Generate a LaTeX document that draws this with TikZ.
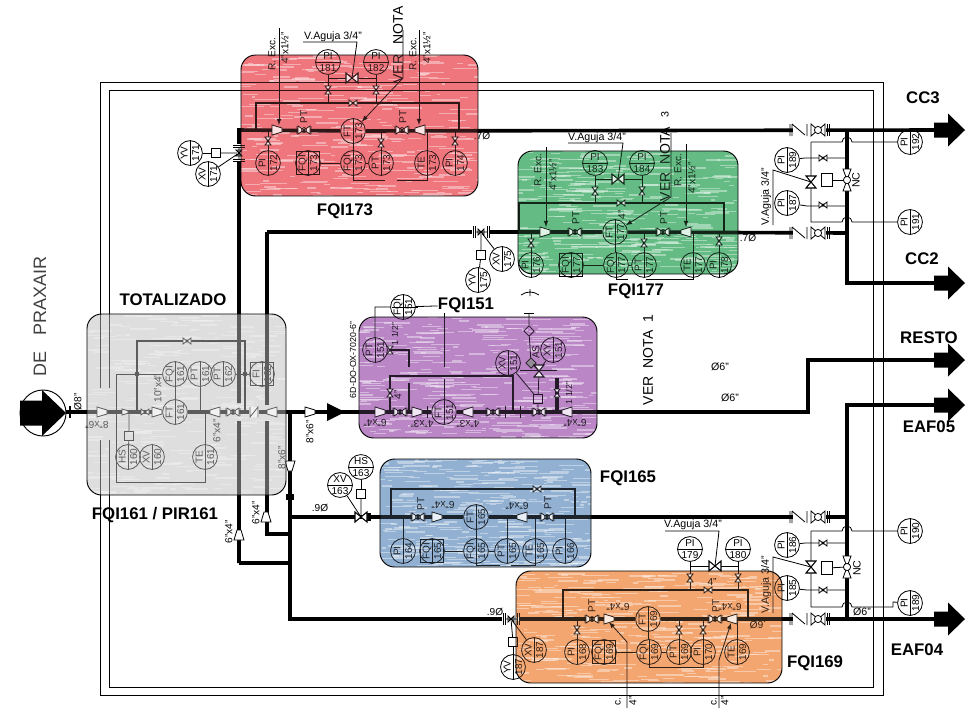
\documentclass[tikz,border=0pt]{standalone}
\usepackage{fontspec}
\setmainfont{Liberation Sans}
\setsansfont{Liberation Sans}
\usetikzlibrary{shapes.geometric}
\definecolor{cRed}{RGB}{238,118,124}
\definecolor{cGreen}{RGB}{100,188,132}
\definecolor{cGray}{RGB}{222,222,222}
\definecolor{cPurple}{RGB}{186,134,198}
\definecolor{cBlue}{RGB}{146,176,210}
\definecolor{cOrange}{RGB}{244,166,112}
\tikzset{
  pipe/.style={line width=2.7pt},
  bypass/.style={line width=2.1pt},
  thinp/.style={line width=.6pt},
  inst/.style={circle,draw,line width=.6pt,minimum size=18pt,inner sep=0pt,align=center,
    font=\fontsize{7.5}{8.6}\selectfont},
  tagbox/.style={draw,line width=.6pt,minimum size=17pt,inner sep=0pt},
  sqbox/.style={draw,line width=.6pt,minimum size=7pt,inner sep=0pt},
  dmd/.style={diamond,draw,line width=.6pt,minimum size=8pt,inner sep=0pt},
  smalltxt/.style={font=\fontsize{7.6}{8}\selectfont,inner sep=0pt},
  tinytxt/.style={font=\fontsize{6.6}{8}\selectfont,inner sep=0pt},
  midtxt/.style={font=\fontsize{8}{9}\selectfont,inner sep=0pt},
  bigtxt/.style={font=\fontsize{10.5}{12}\selectfont,inner sep=0pt},
  lab/.style={font=\bfseries\fontsize{12.6}{14}\selectfont,inner sep=0pt},
  smallv/.pic={
    \draw[thinp,fill=white] (-4,-3) -- (4,3) -- (4,-3) -- (-4,3) -- cycle;
    \fill (0,0) circle (1.6);
  },
  gatev/.pic={
    \draw[thinp,fill=white] (-6,-4) -- (6,4) -- (6,-4) -- (-6,4) -- cycle;
    \draw[thinp] (0,0) circle (2.4) (-7,-4) -- (-7,4) (7,-4) -- (7,4);
  },
  needlev/.pic={
    \draw[line width=.8pt,fill=white] (-6,-5) -- (6,5) -- (6,-5) -- (-6,5) -- cycle;
  },
  redu/.pic={
    \draw[thinp,fill=white] (-5,-5) -- (5,-2) -- (5,2) -- (-5,5) -- cycle;
  },
  linev/.pic={
    \fill[white] (-9,-2) rectangle (9,2);
    \draw[thinp] (-8,-6) -- (-8,6) (-6,-6) -- (-6,6) (6,-6) -- (6,6) (8,-6) -- (8,6);
    \draw[thinp] (-6,0) -- (6,0) (-3,-3) -- (3,3) -- (3,-3) -- (-3,3) -- cycle;
    \fill (0,0) circle (1.5);
  },
  checkgate/.pic={
    \fill[white] (-5,-4) rectangle (28,4);
    \draw[thinp] (-8,-6) -- (-8,6) (-6,-6) -- (-6,6) (-6,-6) -- (7,5) (9,-6) -- (9,6);
    \draw[thinp,fill=white] (13,-6) -- (27,6) -- (27,-6) -- (13,6) -- cycle;
    \draw[thinp,fill=white] (20,0) circle (3.6);
    \draw[thinp] (29,-6) -- (29,6) (31,-6) -- (31,6);
  },
  ncv/.pic={
    \draw[thinp,fill=white] (-11,-4) -- (11,4) -- (11,-4) -- (-11,4) -- cycle;
    \draw[thinp,fill=white] (0,0) circle (3.6);
  },
  chkn/.pic={
    \fill[white] (-5,-5) rectangle (5,5);
    \draw[thinp] (-4,-5) -- (-4,5) -- (4,-5) -- (4,5);
  },
  bigarrow/.pic={
    \fill (0,-7.5) -- (14,-7.5) -- (14,-16.5) -- (31,0) -- (14,16.5) -- (14,7.5) -- (0,7.5) -- cycle;
  }
}
\def\blocklist{241/55/478/196/cRed/.2, 518/151/738/274/cGreen/.2, 87/314/286/495/cGray/.42,
  359/317/597/438/cPurple/.2, 380/459/591/567/cBlue/.2, 516/571/782/683/cOrange/.2}
\begin{document}
\begin{tikzpicture}[x=0.75pt,y=-0.75pt]
  \useasboundingbox (0,0) rectangle (980,708);
  \pgfmathsetseed{41}
  % coloured blocks with fine streaks, under everything
  \foreach \bx/\by/\bX/\bY/\cl/\op in \blocklist {
    \begin{scope}
      \clip[rounded corners=11pt] (\bx,\by) rectangle (\bX,\bY);
      \fill[\cl] (\bx,\by) rectangle (\bX,\bY);
      \foreach \k in {1,...,320} {
        \pgfmathsetmacro{\rx}{\bx+rnd*(\bX-\bx)}
        \pgfmathsetmacro{\ry}{\by+rnd*(\bY-\by)}
        \pgfmathsetmacro{\rw}{3+rnd*26}
        \pgfmathsetmacro{\rh}{.7+rnd*1.2}
        \fill[white,opacity=.5] (\rx-\rw/2,\ry) rectangle (\rx+\rw/2,\ry+\rh);
      }
    \end{scope}
  }
  % double frame, open at the inlet
  \draw[line width=.7pt] (100,388) -- (100,82) -- (883,82) -- (883,695) -- (100,695) -- (100,440);
  \draw[line width=.7pt] (109,388) -- (109,90) -- (873,90) -- (873,687) -- (109,687) -- (109,440);

  % instruments
  \foreach \nm/\px/\py/\tg/\nu/\rt in {
    pi181/328/62/PI/181/0, pi182/376/62/PI/182/0, ft173/353/131/FT/173/90, fq173/353/163/FQI/173/90,
    pt173/381/163/PT/173/90, te173/427/163/TE/173/90, pi174/455/163/PI/174/90, pi172/268/163/PI/172/90,
    yv171/190/153/YV/171/90, xv171/208/174/XV/171/90,
    pi183/595/163/PI/183/0, pi184/642/163/PI/184/0, ft177/615/232/FT/177/90, fq177/616/265/FQI/177/90,
    pt177/644/265/PT/177/90, te177/693/265/TE/177/90, pi178/719/265/PI/178/90, pi176/531/265/PI/176/90,
    yv175/478/280/YV/175/90, xv175/502/259/XV/175/90,
    ft161/175/412/FT/161/90, fq161/175/374/FQI/161/90, pt161/200/374/PT/161/90, pt162/223/374/PT/162/90,
    te161/205/457/TE/161/90, hs160/128/457/HS/160/90, xv160/152/457/XV/160/90,
    fq151/403/307/FQI/151/90, pt151/375/350/PT/151/90, xv151/508/363/XV/151/90, xy151/553/350/XY/151/90,
    ft151/444/412/FT/151/90,
    ft165/476/517/FT/165/90, fq165/476/551/FQI/165/90, pt165/507/551/PT/165/90, te165/535/551/TE/165/90,
    pi166/565/551/PI/166/90, pi164/403/551/PI/164/90, xv163/340/485/XV/163/0, hs163/361/467/HS/163/0,
    ft169/648/619/FT/169/90, fq169/649/652/FQI/169/90, pt169/679/652/PT/169/90, pi170/703/652/PI/170/90,
    te169/737/652/TE/169/90, pi168/577/652/PI/168/90, xv187/534/650/XV/187/90, yv187/513/667/YV/187/90,
    pi179/690/549/PI/179/0, pi180/738/549/PI/180/0,
    pi192/910/142/PI/192/90, pi191/910/222/PI/191/90, pi189/787/160/PI/189/90, pi187/787/203/PI/187/90,
    pi190/910/531/PI/190/90, pi188/910/603/PI/189/90, pi186/787/545/PI/186/90, pi185/787/588/PI/185/90} {
    \node[inst,rotate=\rt] (\nm) at (\px,\py) {\tg\\\nu};
    \draw[thinp] (\nm.west) -- (\nm.east);
  }
  % boxed ones
  \foreach \nm/\px/\py/\tg/\nu in {qb173/308/163/FQI/173, qb177/571/265/FQI/177, qb165/432/551/FQI/165,
    qb169/604/652/FQI/169, fi162/262/374/FI/162} {
    \node[tagbox] (b\nm) at (\px,\py) {};
    \node[inst,rotate=90] (\nm) at (\px,\py) {\tg\\\nu};
    \draw[thinp] (\nm.west) -- (\nm.east);
  }
  \draw[thinp] ([xshift=1.5pt]fq151.north) -- ([xshift=1.5pt]fq151.south);

  % pipe corners and free ends
  \foreach \nm/\px/\py in {inA/66/412, ch1/808/412, ch2/808/360, resto/934/360,
    v1b/239/563, v1m/239/421, v1n/239/403, r0/239/130, cc3/934/130,
    v2t/267/232, v2n/267/405, v2m/267/421, v2b/267/534, g0/847/233, cN/847/130, cS/847/283, cc2/934/283,
    h0/290/412, h1/290/534, h2/290/563, h3/290/517, h4/290/619,
    bE/847/517, eT/847/405, eaf5/934/405, eS/847/619, eaf4/934/619,
    r1/256/130, r2/256/103, r3/459/103, r4/459/130,
    g1/519/232, g2/519/203, g3/724/203, g4/724/232,
    t1/137/412, t2/137/341, t3/245/341, t4/245/412, t5/137/374, t6/245/374,
    p1/390/412, p2/390/376, p3/513/376, p4/513/412, p5/409/412, p6/409/383, p7/409/367, p8/409/350, p9/390/350,
    pa/557/412, pb/557/378,
    b1/391/517, b2/391/489, b3/575/489, b4/575/517,
    o1/563/619, o2/563/590, o3/748/590, o4/748/619,
    vr/239/153, vg/481/232, vb/361/517, vo/511/619,
    nd1/352/78, nd2/618/179, nd3/715/566, nc1/811/182, nc2/847/180, nc3/811/567, nc4/847/567,
    cv/539/371, sv1/529/313} {
    \coordinate (\nm) at (\px,\py);
  }
  % main pipes
  \draw[pipe] (inA) -- (ft161);
  \draw[pipe] (ft161) -- (ft151);
  \draw[pipe] (ft151) -- (ch1) -- (ch2) -- (resto);
  \draw[pipe] (v1b) -- (v1m) (v1n) -- (r0) -- (ft173);
  \draw[pipe] (ft173) -- (cc3);
  \draw[pipe] (h2) -- (v1b);
  \draw[pipe] (v2t) -- (v2n) (v2m) -- (v2b) -- (h1);
  \draw[pipe] (v2t) -- (ft177);
  \draw[pipe] (ft177) -- (g0);
  \draw[pipe] (cN) -- (cS) -- (cc2);
  \draw[pipe] (h0) -- (h4) -- (ft169);
  \draw[pipe] (ft169) -- (eaf4);
  \draw[pipe] (h3) -- (ft165);
  \draw[pipe] (ft165) -- (bE);
  \draw[pipe] (eaf5) -- (eT) -- (eS);
  \draw[pipe] (pa) -- (pb);
  % bypass loops
  \draw[bypass] (r1) -- (r2) -- (r3) -- (r4);
  \draw[bypass] (g1) -- (g2) -- (g3) -- (g4);
  \draw[bypass] (t1) -- (t2) -- (t3) -- (t4);
  \draw[bypass] (p1) -- (p2) -- (p3) -- (p4);
  \draw[bypass] (p5) -- (p6) (p7) -- (p8) -- (p9);
  \draw[bypass] (b1) -- (b2) -- (b3) -- (b4);
  \draw[bypass] (o1) -- (o2) -- (o3) -- (o4);
  \fill (t5) circle (2.4) (t6) circle (2.4);
  \fill (286,494) rectangle (294,500);
  \fill (366,513) rectangle (371,521);
  \fill (327,403) -- (345,412) -- (327,421) -- cycle;

  % drop lines to the pipe or the loop
  \foreach \a/\b in {pi172/r1, pt173/r1, te173/r1, pi174/r1, pi181/r2, pi182/r2,
    pi176/g1, pt177/g1, te177/g1, pi178/g1, pi183/g2, pi184/g2,
    pi164/b1, pt165/b1, te165/b1, pi166/b1,
    pi168/o1, pt169/o1, pi170/o1, te169/o1, pi179/o2, pi180/o2,
    pt161/t1, te161/t1} {
    \draw[thinp] (\a) -- (\a |- \b);
  }
  \foreach \nm/\px/\py in {sq171/216/153, sq175/481/255, sq163/361/494, sq187/513/642, sq151/538/399, sqh/129/436} {
    \node[sqbox] (\nm) at (\px,\py) {};
  }
  % node to node
  \foreach \a/\b in {fq173/ft173, qb173/fq173, fq173/pt173,
    fq177/ft177, qb177/fq177, fq177/pt177,
    fq165/ft165, qb165/fq165, fq165/pt165,
    fq169/ft169, qb169/fq169, fq169/pt169,
    fq161/ft161, xv151/sq151, xy151/cv, yv171/sq171, xv171/vr, yv175/sq175, xv175/vg,
    hs163/sq163, xv163/vb, yv187/sq187, xv187/vo, hs160/sqh} {
    \draw[thinp] (\a) -- (\b);
  }
  \draw[thinp] (sq171) -- (vr) (sq175) -- (vg) (sq163) -- (vb) (sq187) -- (vo);
  \draw[thinp] (sqh) -- (sqh |- t1) (sq151) -- (sq151 |- p1) (sq151) -- (cv);
  \draw[thinp] (pi181 |- nd1) -- (pi182 |- nd1) (pi183 |- nd2) -- (pi184 |- nd2) (pi179 |- nd3) -- (pi180 |- nd3);
  \draw[thinp] (fq173) |- (385,180) (397,180) -| (te173);
  \draw[thinp] (fq177) |- (628,279) (646,279) -| (te177);
  \draw[thinp] (fq165) |- (500,565) (511,565) -| (te165);
  \draw[thinp] (fq169) |- (680,667) -| (pi170);
  % totalizer
  \draw[thinp] (fq161) -- (t5) -- (116,374) -- (116,482) -| (te161);
  \draw[thinp] (pt162) -- (t6) (t6) -- (fi162);
  % purple block
  \node[lab] (l151) at (466,305) {FQI151};
  \draw[thinp] (pt151) |- (fq151) (fq151) -- (l151);
  \draw[thinp] (444,313) -- (444,367) (444,379) -- (ft151);
  \node[dmd] (dm1) at (529,331) {};
  \node[dmd,fill=black!45] (dm2) at (531,363) {};
  \draw[thinp] (sv1) -- (dm1) -- (dm2) -- (cv);
  \draw[thinp] (520,370) -- (557,370);
  \draw[thinp] (521,295) to[bend left=35] (539,295) (530,289) -- (530,296);
  \draw[thinp] (524,313) -- (534,313);
  \foreach \px in {427,505,520} {\draw[thinp] (\px,406) -- (\px,418);}
  % leaders with their tips
  \draw[thinp,-latex] (279,28) -- (279,125);
  \draw[thinp,-latex] (419,30) -- (419,125);
  \draw[thinp,-latex] (546,147) -- (546,227);
  \draw[thinp,-latex] (686,144) -- (686,227);
  \draw[thinp,-latex] (627,708) -- (627,642) -- (609,622);
  \draw[thinp,-latex] (719,708) -- (719,660) -- (731,623);
  \draw[thinp,-latex] (403,30) -- (403,78) -- (ft173);
  \draw[thinp,-latex] (671,133) -- (671,197) -- (ft177);
  \draw[thinp] (303,42) -- (357,42) -- (nd1);
  \draw[thinp] (568,143) -- (623,143) -- (nd2);
  \draw[thinp] (665,531) -- (719,531) -- (nd3);
  % by-pass instruments on the right
  \draw[thinp] (811,142) -- (842,142) arc[start angle=180,end angle=360,radius=5] -- (pi192);
  \draw[thinp] (811,142) -- (811,222) -- (842,222) arc[start angle=180,end angle=360,radius=5] -- (pi191);
  \draw[thinp] (pi189) -- (805,158) -- (847,158);
  \draw[thinp] (pi187) -- (807,206) -- (847,206);
  \draw[thinp] (nc1) -- (773,170) -- (773,225);
  \node[sqbox,minimum width=8pt,minimum height=9.5pt] (sqA) at (827,180) {};
  \draw[thinp] (sqA) -- (nc2);
  \draw[thinp] (811,531) -- (842,531) arc[start angle=180,end angle=360,radius=5] -- (pi190);
  \draw[thinp] (811,531) -- (811,607) -- (842,607) arc[start angle=180,end angle=360,radius=5] -- (893,607) -- (893,602) -- (pi188);
  \draw[thinp] (pi186) -- (805,543) -- (847,543);
  \draw[thinp] (pi185) -- (807,590) -- (847,590);
  \draw[thinp] (nc3) -- (773,557) -- (773,613);
  \node[sqbox,minimum width=8pt,minimum height=9.5pt] (sqB) at (827,568) {};
  \draw[thinp] (sqB) -- (nc4);

  % valves
  \foreach \px/\py/\rt in {328/90/90, 376/90/90, 353/103/0, 268/141/90, 381/143/90, 455/141/90,
    595/191/90, 642/191/90, 621/203/0, 531/243/90, 644/243/90, 719/241/90,
    690/578/90, 738/578/90, 708/590/0, 577/630/90, 679/630/90, 703/630/90,
    537/489/0, 187/341/0, 823/158/0, 823/205/0, 823/543/0, 823/590/0, 390/350/90, 390/393/90, 557/393/90,
    145/412/0} {
    \pic[rotate=\rt] at (\px,\py) {smallv};
  }
  \foreach \px/\py in {304/130, 402/130, 575/232, 663/232, 592/619, 715/619, 418/517, 547/517,
    233/412, 400/412, 493/412, 539/412} {
    \pic at (\px,\py) {gatev};
  }
  \foreach \px/\py/\rt in {277/130/0, 420/130/180, 545/232/0, 686/232/180, 609/619/0, 732/619/180,
    437/517/0, 522/517/180, 102/412/0, 157/412/0, 215/412/180, 272/412/180, 310/412/0,
    380/412/0, 417/412/0, 468/412/180, 567/412/180, 290/466/-90, 266/517/90, 239/535/90} {
    \pic[rotate=\rt] at (\px,\py) {redu};
  }
  \foreach \px/\py/\rt in {352/78/0, 618/179/0, 715/566/0, 361/517/0, 539/371/90, 811/182/90, 811/567/90} {
    \pic[rotate=\rt] at (\px,\py) {needlev};
  }
  \foreach \px/\py/\rt in {239/153/90, 481/232/0, 511/619/0} {
    \pic[rotate=\rt] at (\px,\py) {linev};
  }
  \foreach \py in {130,233,517,619} {
    \pic at (798,\py) {checkgate};
  }
  \foreach \py in {180,567} {
    \pic[rotate=90] at (847,\py) {ncv};
  }
  \pic at (254,412) {chkn};
  \pic[scale=.6] at (125,412) {redu};

  % thin texts on the drawing
  \foreach[count=\i] \px/\py/\rt/\tx in {
    272/54/90/{R. Exc.}, 285/48/90/{4"x1½"}, 413/54/90/{R. Exc.}, 427/48/90/{4"x1½"},
    538/170/90/{R. Exc.}, 553/175/90/{4"x1½"}, 678/170/90/{R. Exc.}, 692/178/90/{4"x1½"},
    304/117/90/PT, 403/117/90/PT, 576/218/90/PT, 664/218/90/PT, 592/606/90/PT, 716/606/90/PT,
    421/504/90/PT, 548/503/90/PT, 622/215/90/{4"}, 712/582/0/{4"},
    482/136/0/{.7Ø}, 748/238/0/{.7Ø}, 320/508/0/{.9Ø}, 495/612/0/{.9Ø},
    758/625/180/{.6Ø}, 78/402/90/{Ø8"},
    97/425/180/{8"x6"}, 158/388/90/{10"x4"}, 217/431/90/{6"x4"}, 310/432/90/{8"x6"}, 282/458/90/{8"x6"},
    256/513/90/{6"x4"}, 229/532/90/{6"x4"},
    375/423/180/{6"x4"}, 422/424/180/{4"x3"}, 468/424/180/{4"x3"}, 575/423/180/{6"x4"},
    443/505/180/{6"x4"}, 517/506/180/{6"x4"}, 618/607/180/{6"x4"}, 730/607/180/{6"x4"},
    398/395/90/{4"}, 536/352/90/AS, 618/702/90/{c.}, 633/701/90/{4"}, 714/702/90/{c.}, 725/701/90/{4"}} {
    \node[smalltxt,rotate=\rt] (st\i) at (\px,\py) {\tx};
  }
  \foreach[count=\i] \px/\py/\rt/\tx in {
    395/334/90/{1 1/2"}, 569/393/90/{1 1/2"}, 353/360/90/{6D-DO-OX-7020-6"}} {
    \node[tinytxt,rotate=\rt] (ty\i) at (\px,\py) {\tx};
  }
  \foreach[count=\i] \px/\py/\rt/\tx in {
    333/37/0/{V.Aguja 3/4"}, 597/138/0/{V.Aguja 3/4"}, 693/525/0/{V.Aguja 3/4"},
    766/197/90/{V.Aguja 3/4"}, 766/585/90/{V.Aguja 3/4"},
    856/180/90/NC, 857/568/90/NC, 720/367/0/{Ø6"}, 730/398/0/{Ø6"}, 862/612/0/{Ø6"}, 665/115/90/3} {
    \node[midtxt,rotate=\rt] (mt\i) at (\px,\py) {\tx};
  }
  \node[bigtxt,rotate=90] (ver1) at (398,45) {VER\hspace{8pt}NOTA};
  \node[bigtxt,rotate=90] (ver2) at (665,164) {VER\hspace{6pt}NOTA};
  \node[bigtxt,rotate=90] (ver3) at (648,360) {VER\hspace{6pt}NOTA\hspace{6pt}1};

  % tint over the blocks
  \foreach \bx/\by/\bX/\bY/\cl/\op in \blocklist {
    \fill[\cl,opacity=\op,rounded corners=11pt] (\bx,\by) rectangle (\bX,\bY);
    \draw[line width=.7pt,rounded corners=11pt] (\bx,\by) rectangle (\bX,\bY);
  }

  % inlet and outlets
  \node[circle,draw,line width=.7pt,minimum size=34.5pt,inner sep=0pt] (inlet) at (43,413) {};
  \fill (20,400.5) -- (42,400.5) -- (42,390) -- (66,413) -- (42,436) -- (42,425.5) -- (20,425.5) -- cycle;
  \draw[line width=1pt] (70,406) -- (70,418);
  \foreach \nm in {cc3,cc2,resto,eaf5,eaf4} {
    \pic at (\nm) {bigarrow};
  }

  % labels
  \foreach[count=\i] \px/\py/\tx in {345/211/FQI173, 636/291/FQI177, 628/478/FQI165, 815/663/FQI169,
    155/515/{FQI161 / PIR161}, 173/300/TOTALIZADO, 923/98/CC3, 922/259/CC2, 929/338/RESTO,
    929/427/EAF05, 917/650/EAF04} {
    \node[lab] (lb\i) at (\px,\py) {\tx};
  }
  \node[font=\fontsize{13.5}{15}\selectfont,rotate=90,text=black!75,inner sep=0pt] (src) at (40,316.5) {DE\hspace{12pt}PRAXAIR};
\end{tikzpicture}
\end{document}
